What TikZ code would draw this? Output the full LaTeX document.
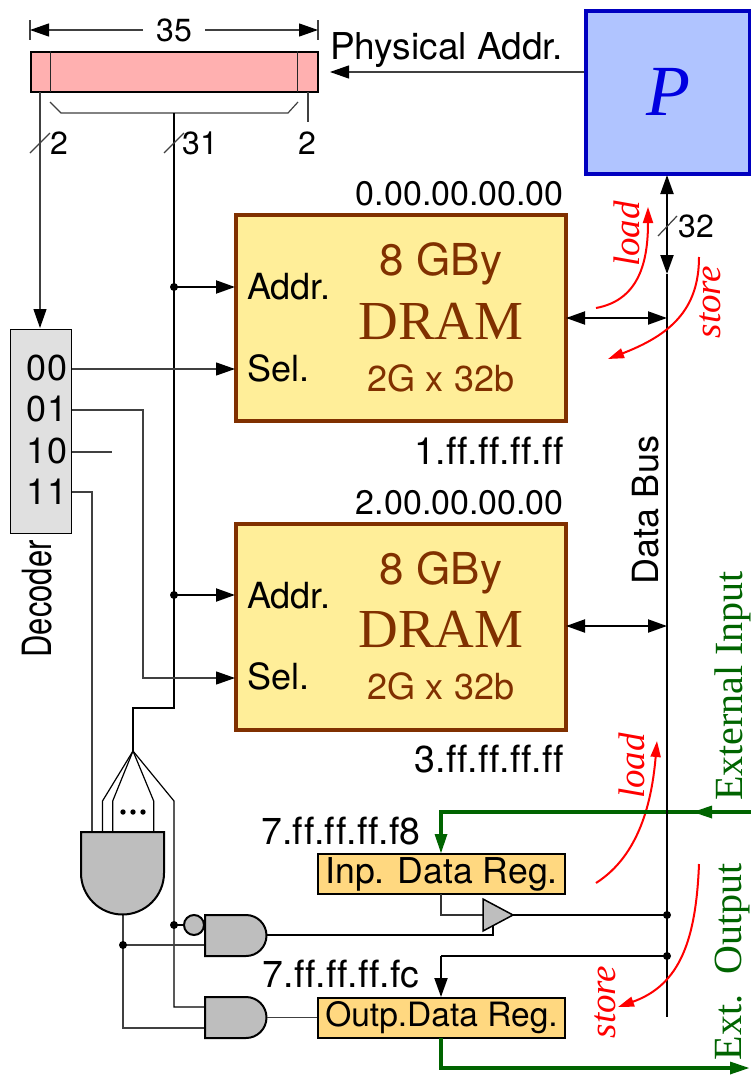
\documentclass[tikz,border=0pt]{standalone}
\usepackage{fontspec}
\setmainfont[Ligatures=NoCommon]{TeX Gyre Heros}
\newfontfamily\timesfont{Liberation Serif}
\usetikzlibrary{arrows.meta}
\definecolor{regred}{HTML}{FFB0B0}
\definecolor{procblue}{HTML}{B0C4FF}
\definecolor{ramyellow}{HTML}{FFEE99}
\definecolor{rambrown}{HTML}{803000}
\definecolor{ioreg}{HTML}{FFD880}
\definecolor{extgreen}{HTML}{006400}
\definecolor{gategray}{HTML}{BEBEBE}
\tikzset{
  lbl/.style={inner sep=0pt,font=\fontsize{36}{38}\selectfont},
  numlbl/.style={inner sep=0pt,font=\fontsize{32}{34}\selectfont},
  zerolbl/.style={inner sep=0pt,font=\fontsize{34}{36}\selectfont},
  efflbl/.style={inner sep=0pt,font=\fontsize{37.5}{40}\selectfont},
  ramtxt/.style={inner sep=0pt,text=rambrown},
  redtxt/.style={inner sep=0pt,text=red,rotate=90,font=\timesfont\itshape\fontsize{37}{39}\selectfont},
  exttxt/.style={inner sep=0pt,text=extgreen,rotate=90,font=\timesfont\fontsize{40}{42}\selectfont},
  ramblock/.style={draw=rambrown,line width=4pt,fill=ramyellow,minimum width=330pt,minimum height=206pt,inner sep=0pt},
  regblock/.style={draw=black,line width=2pt,fill=ioreg,minimum width=247pt,minimum height=40pt,inner sep=0pt},
  wire/.style={line width=1.2pt,black!75},
  bus/.style={line width=2pt,black},
  head/.style={-{Triangle[length=19pt,width=13pt,black]}},
  heads/.style={{Triangle[length=19pt,width=13pt,black]}-{Triangle[length=19pt,width=13pt,black]}},
  redline/.style={line width=2pt,red,-{Triangle[length=16pt,width=10pt]}},
  extline/.style={line width=4pt,extgreen},
  gate/.style={draw=black,line width=2pt,fill=gategray}
}
\begin{document}
\begin{tikzpicture}[x=1pt,y=-1pt]
\useasboundingbox (0,0) rectangle (751,1076);
\fill[white] (0,0) rectangle (751,1076);
% address register
\node[draw=black,line width=2pt,fill=regred,minimum width=287pt,minimum height=40pt,inner sep=0pt] (addrreg) at (174,71.5) {};
\draw[line width=1.2pt,black!85] (50.5,51) -- (50.5,92);
\draw[line width=1.2pt,black!85] (297.5,51) -- (297.5,92);
\node[numlbl] (width) at (174,30) {35};
\coordinate (tickl) at (30,30);
\coordinate (tickr) at (318,30);
\draw[wire] (30,20) -- (30,40);
\draw[wire] (318,20) -- (318,40);
\draw[wire,head] (143,30) -- (tickl);
\draw[wire,head] (205,30) -- (tickr);
\draw[wire] (50,102) -- (61,113) -- (288,113) -- (298,102);
\draw[wire] (308,92) -- (308,122);
\node[numlbl] (lowbits) at (307,143) {2};
% processor
\node[draw={rgb,255:red,0;green,0;blue,192},line width=3.5pt,fill=procblue,minimum width=164pt,minimum height=163pt,inner sep=0pt] (proc) at (668,92.5) {};
\node[inner sep=0pt,text={rgb,255:red,0;green,0;blue,224},font=\timesfont\itshape\fontsize{72}{74}\selectfont] (procname) at (668,92) {P};
\node[lbl,anchor=west,font=\fontsize{37}{39}\selectfont] (physaddr) at (330,50) {Physical Addr.};
\coordinate (regin) at (330,72);
\draw[wire,head] (proc.west |- regin) -- (regin);
% decoder
\node[draw=black,line width=1.5pt,fill=black!12,minimum width=61pt,minimum height=204pt,inner sep=0pt] (dec) at (41,431.5) {};
\node[lbl] (dec00) at (47,368) {00};
\node[lbl] (dec01) at (47,409) {01};
\node[lbl] (dec10) at (47,451) {10};
\node[lbl] (dec11) at (47,492) {11};
\node[lbl,rotate=90,font=\fontsize{31}{34}\selectfont] (decname) at (37,599) {\scalebox{1}[1.3]{Decoder}};
\draw[wire,head] (40,92) -- (40,328);
\draw[wire] (30,153) -- (50,133);
\node[numlbl] (decbits) at (59,143) {2};
% memory chips
\node[ramblock] (ramA) at (401,318) {};
\node[ramblock] (ramB) at (401,627) {};
\foreach \nm/\y in {A/0,B/308.5} {
  \node[ramtxt,font=\fontsize{44}{46}\selectfont] (gby\nm) at (441,264+\y) {8 GBy};
  \node[ramtxt,font=\timesfont\fontsize{55}{57}\selectfont] (dram\nm) at (441,321+\y) {DRAM};
  \node[ramtxt,font=\fontsize{36}{38}\selectfont] (org\nm) at (441,378+\y) {2G x 32b};
  \node[lbl,anchor=west] (addr\nm) at (247,287+\y) {Addr.};
  \node[lbl,anchor=west] (sel\nm) at (247,368+\y) {Sel.};
}
\node[zerolbl,anchor=east] (startA) at (564,194) {0.00.00.00.00};
\node[efflbl,anchor=east] (endA) at (564,451) {1.ff.ff.ff.ff};
\node[zerolbl,anchor=east] (startB) at (564,503) {2.00.00.00.00};
\node[efflbl,anchor=east] (endB) at (564,759) {3.ff.ff.ff.ff};
% high address bits
\coordinate (fan) at (133,751);
\draw[bus] (174,113) -- (174,708) -- (133,708) -- (fan);
\draw[wire] (164,153) -- (184,133);
\node[numlbl] (highbits) at (200,143) {31};
\coordinate (addrinA) at (235,287);
\coordinate (addrinB) at (235,595);
\coordinate (forkA) at (174,287);
\coordinate (forkB) at (174,595);
\draw[bus,head] (forkA) -- (addrinA);
\draw[bus,head] (forkB) -- (addrinB);
\fill (forkA) circle (4);
\fill (forkB) circle (4);
% select lines
\draw[wire,head] (72,369) -- (235,369);
\draw[wire,head] (72,410) -- (143,410) -- (143,678) -- (235,678);
\draw[wire] (72,452) -- (112,452);
\draw[wire] (72,492) -- (92,492) -- (92,832);
% decode gates
\draw[line width=1.2pt,black] (fan) -- (102.5,801) -- (102.5,832);
\draw[line width=1.2pt,black] (fan) -- (112.7,801) -- (112.7,832);
\draw[line width=1.2pt,black] (fan) -- (153.7,801) -- (153.7,832);
\draw[line width=1.2pt,black] (fan) -- (174,801) -- (174,1007) -- (205,1007);
\fill (123,812) circle (2.7);
\fill (133,812) circle (2.7);
\fill (143,812) circle (2.7);
\draw[wire] (123,915) -- (123,1028) -- (205,1028);
\draw[wire] (123,945) -- (205,945);
\fill (123,945) circle (4);
\draw[line width=1.2pt,black] (174,925) -- (184,925);
\fill (174,925) circle (4);
\draw[gate] (81,832) -- (164,832) -- (164,873) arc (0:180:41.5) -- cycle;
\draw[gate] (194,925) circle (10);
\draw[gate] (205,915) -- (246,915) arc (-90:90:20.5) -- (205,956) -- cycle;
\draw[gate] (205,997) -- (246,997) arc (-90:90:20.5) -- (205,1038) -- cycle;
% input and output registers
\node[regblock,font=\fontsize{35.6}{38}\selectfont] (inpreg) at (441.5,874) {Inp. Data Reg.};
\node[regblock,font=\fontsize{33.5}{36}\selectfont] (outreg) at (441.5,1017.5) {Outp.Data Reg.};
\node[efflbl] (inpaddr) at (341,831) {7.ff.ff.ff.f8};
\node[efflbl] (outaddr) at (341,974) {7.ff.ff.ff.fc};
\draw[wire] (267,1017.5) -- (outreg.west);
\draw[line width=1.2pt,black] (267,935) -- (493,935) -- (493,925);
\draw[line width=1.5pt,black!80] (441,894) -- (441,915) -- (483,915);
\draw[gate,line width=1.5pt] (483,899) -- (513,915) -- (483,931) -- cycle;
% external lines
\draw[redline] (596,883) .. controls (640,855) and (652,800) .. (657,741);
\draw[extline] (751,812) -- (441,812) -- (441,835);
\fill[extgreen] (441,853) -- (434.5,834) -- (447.5,834) -- cycle;
\fill[extgreen] (693,812) -- (712,805.5) -- (712,818.5) -- cycle;
\draw[extline] (441,1038) -- (441,1068) -- (731,1068);
\fill[extgreen] (749,1068) -- (730,1061.5) -- (730,1074.5) -- cycle;
\node[exttxt] (extin) at (732.5,686) {External Input};
\node[exttxt] (extout) at (732.5,962) {Ext.\ \ Output};
% data bus
\draw[bus] (667,274) -- (667,1017);
\draw[bus,heads] (667,175) -- (667,274);
\draw[wire] (658,236) -- (677,216);
\node[numlbl] (busbits) at (696,226) {32};
\node[lbl,rotate=90] (busname) at (646,510) {Data Bus};
\coordinate (busA) at (667,318);
\coordinate (busB) at (667,626);
\coordinate (portA) at (566,318);
\coordinate (portB) at (566,626);
\draw[bus,heads] (portA) -- (busA);
\draw[bus,heads] (portB) -- (busB);
\draw[bus] (513,915) -- (667,915);
\fill (667,915) circle (4);
\draw[bus] (667,956) -- (441,956);
\draw[bus,head] (441,956) -- (441,997);
\fill (667,956) circle (4);
% load and store
\draw[redline] (596,308) .. controls (640,300) and (648,260) .. (648,207);
\draw[redline] (699,257) .. controls (699,310) and (670,335) .. (608,359);
\draw[redline] (699,864) .. controls (696,940) and (680,985) .. (618,1007);
\node[redtxt] (loadA) at (627,234) {load};
\node[redtxt] (storeA) at (710,302) {store};
\node[redtxt] (loadB) at (632,766) {load};
\node[redtxt] (storeB) at (605,1002) {store};
\end{tikzpicture}
\end{document}
